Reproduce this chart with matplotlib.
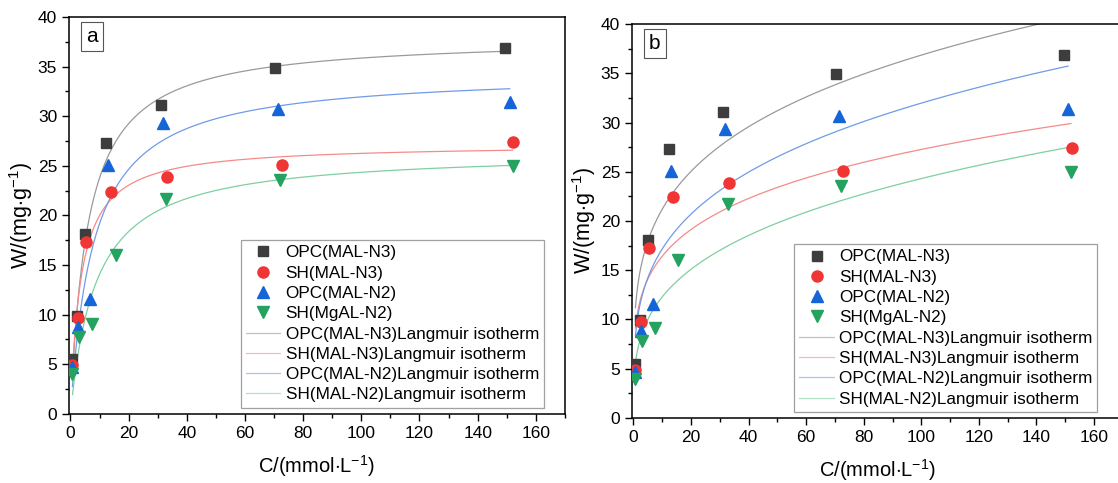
import numpy as np
import matplotlib.pyplot as plt
from matplotlib.ticker import MultipleLocator

plt.rcParams['font.family'] = ['Liberation Sans', 'DejaVu Sans']
plt.rcParams['mathtext.fontset'] = 'custom'
plt.rcParams['mathtext.rm'] = 'Liberation Sans'
plt.rcParams['mathtext.it'] = 'Liberation Sans:italic'

# measured points (C in mmol/L, W in mg/g)
c_opc_n3 = [0.5, 2.2, 5.0, 12.2, 31.2, 70.2, 149.5]
w_opc_n3 = [5.5, 9.9, 18.1, 27.3, 31.1, 34.9, 36.9]
c_sh_n3 = [0.6, 2.5, 5.4, 13.8, 33.2, 72.9, 152.2]
w_sh_n3 = [4.9, 9.7, 17.3, 22.4, 23.9, 25.1, 27.4]
c_opc_n2 = [0.6, 2.6, 6.7, 12.9, 31.8, 71.5, 151.0]
w_opc_n2 = [4.7, 8.8, 11.6, 25.1, 29.3, 30.7, 31.4]
c_sh_n2 = [0.7, 2.8, 7.5, 15.5, 32.8, 72.2, 152.0]
w_sh_n2 = [4.0, 7.8, 9.1, 16.0, 21.7, 23.6, 25.0]

point_labels = ['OPC(MAL-N3)', 'SH(MAL-N3)', 'OPC(MAL-N2)', 'SH(MgAL-N2)']
curve_labels = ['OPC(MAL-N3)Langmuir isotherm', 'SH(MAL-N3)Langmuir isotherm',
                'OPC(MAL-N2)Langmuir isotherm', 'SH(MAL-N2)Langmuir isotherm']

# fit parameters
# panel a: W = qm*K*C/(1+K*C)
qm_a = [38.0, 27.2, 34.5, 26.5]
k_a = [0.167, 0.277, 0.125, 0.113]
c_end = [150.0, 152.0, 151.0, 152.0]
# panel b: W = K*C^(1/n)
kf_b = [12.2, 9.9, 9.22, 6.22]
inv_n_b = [0.24, 0.22, 0.27, 0.296]

pt_colors = ['#3d3d3d', '#f03535', '#1565d8', '#23a35f']
ln_colors = ['#9a9a9a', '#f58a8a', '#6f9be8', '#7fcf9f']
markers = ['s', 'o', '^', 'v']

fig = plt.figure(figsize=(11.18, 4.83), dpi=100)
ax_a = fig.add_axes([0.0617, 0.143, 0.4436, 0.822])
ax_b = fig.add_axes([0.5653, 0.1346, 0.439, 0.8157])

pts = [(c_opc_n3, w_opc_n3), (c_sh_n3, w_sh_n3), (c_opc_n2, w_opc_n2), (c_sh_n2, w_sh_n2)]

for ax, tag in [(ax_a, 'a'), (ax_b, 'b')]:
    for i, (c, w) in enumerate(pts):
        ax.plot(c, w, linestyle='none', marker=markers[i], color=pt_colors[i],
                markersize=8 if markers[i] != 's' else 6.5, label=point_labels[i], zorder=3)
    for i in range(4):
        cc = np.linspace(0.7, c_end[i], 400)
        if tag == 'a':
            ww = qm_a[i] * k_a[i] * cc / (1 + k_a[i] * cc)
        else:
            ww = kf_b[i] * cc ** inv_n_b[i]
        ax.plot(cc, ww, color=ln_colors[i], lw=0.9, label=curve_labels[i], zorder=2)

    ax.set_xlim(-0.5, 170)
    ax.set_ylim(0, 40)
    ax.xaxis.set_major_locator(MultipleLocator(20))
    ax.xaxis.set_minor_locator(MultipleLocator(10))
    ax.yaxis.set_major_locator(MultipleLocator(5))
    ax.yaxis.set_minor_locator(MultipleLocator(2.5))
    ax.tick_params(which='major', direction='out', length=5, width=1, labelsize=12.5)
    ax.tick_params(which='minor', direction='out', length=3, width=1)
    for s in ax.spines.values():
        s.set_linewidth(1.1)
    ax.set_xlabel(r'C/(mmol$\cdot$L$^{-1}$)', fontsize=14.5, labelpad=9)
    ax.set_ylabel(r'W/(mg$\cdot$g$^{-1}$)', fontsize=15.5, labelpad=2)
    ax.text(0.035, 0.975, tag, transform=ax.transAxes, fontsize=15, va='top', ha='left',
            bbox=dict(boxstyle='square,pad=0.25', fc='white', ec='#555555', lw=0.8))
    leg = ax.legend(loc='lower right', bbox_to_anchor=(0.958, 0.016) if tag == 'a' else (0.948, 0.016),
                    fontsize=12.3, frameon=True, fancybox=False, edgecolor='#888888',
                    handlelength=2.0, labelspacing=0.31, borderpad=0.3, handletextpad=0.3,
                    borderaxespad=0)
    leg.get_frame().set_linewidth(0.9)
    for h in leg.legend_handles[4:]:
        h.set_alpha(0.6)

fig.savefig('out.png', dpi=100)
